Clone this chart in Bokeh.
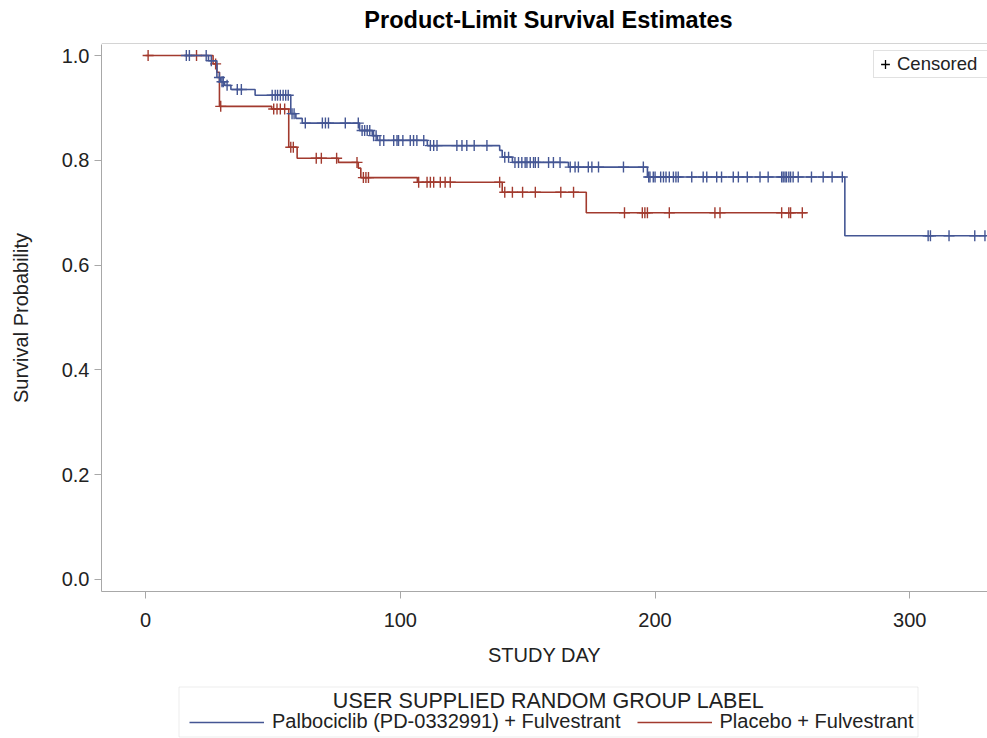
import numpy as np
from bokeh.plotting import figure
from bokeh.layouts import column
from bokeh.models import (Legend, LegendItem, Range1d, FixedTicker,
                          PrintfTickFormatter, BoxAnnotation, Label, Span)
from bokeh.embed import file_html
from bokeh.resources import INLINE

chart_title = "Product-Limit Survival Estimates"
x_label = "STUDY DAY"
y_label = "Survival Probability"
group_label = "USER SUPPLIED RANDOM GROUP LABEL"
group_names = ["Palbociclib (PD-0332991) + Fulvestrant", "Placebo + Fulvestrant"]
censor_label = "Censored"
x_ticks = [0, 100, 200, 300]
y_ticks = [0.0, 0.2, 0.4, 0.6, 0.8, 1.0]

# Palbociclib + Fulvestrant: step times and survival after each step
palbo_t = [15.5, 24.7, 28.0, 29.5, 31.0, 33.5, 43.0, 57.0, 59.0, 61.5, 84.0, 89.0,
           91.0, 110.6, 139.0, 140.0, 144.0, 166.0, 197.0, 274.5]
palbo_s = [1.0, 0.990, 0.958, 0.950, 0.943, 0.935, 0.924, 0.889, 0.880, 0.871, 0.857,
           0.847, 0.838, 0.828, 0.819, 0.806, 0.796, 0.787, 0.768, 0.656]
palbo_end = 330.0
palbo_censored = [16, 17.2, 23.8, 25.8, 29.0, 30.0, 30.5, 32.0, 36.0, 37.6,
                  49.7, 50.9, 51.8, 52.9, 54.0, 55.0, 56.0, 57.5, 58.3,
                  62.7, 69.4, 70.6, 71.8, 78.4, 83.5, 85.0, 86.0, 87.0, 88.0,
                  89.5, 90.5, 92.0, 93.5, 97.4, 98.7, 99.3, 101.0, 103.9, 105.2,
                  106.5, 109.2, 111.8, 113.1, 114.4, 122.2, 124.2, 126.1, 129.0,
                  134.0, 141.0, 142.5, 145.0, 146.4, 147.7, 149.0, 149.7, 151.0,
                  152.3, 153.0, 154.2, 158.2, 160.1, 162.7, 166.7, 168.6, 169.9,
                  173.8, 175.2, 177.8, 187.6, 195.4, 197.5, 198.0, 199.3, 200.0,
                  202.2, 203.3, 204.3, 205.6, 207.2, 208.2, 209.1, 214.4, 218.9,
                  220.3, 224.2, 226.1, 230.7, 232.7, 236.2, 241.2, 244.4, 249.7,
                  250.3, 251.0, 251.6, 252.5, 253.2, 254.2, 256.2, 261.4, 266.0,
                  269.5, 273.5, 307.2, 308.1, 315.4, 325.5, 329.5]

# Placebo + Fulvestrant
placebo_t = [0.0, 26.5, 28.0, 29.0, 49.5, 56.2, 59.5, 75.7, 83.5, 84.5, 106.7,
             140.0, 173.0]
placebo_s = [1.0, 0.984, 0.968, 0.903, 0.898, 0.825, 0.804, 0.796, 0.785, 0.767,
             0.758, 0.739, 0.700]
placebo_end = 259.5
placebo_censored = [1.0, 20.0, 27.5, 29.5, 50.3, 51.6, 52.9, 54.6, 57.0, 58.0,
                    67.0, 69.0, 75.0, 83.0, 85.5, 86.5, 87.5, 107.2, 110.5, 111.8,
                    113.1, 115.7, 117.6, 119.6, 139.0, 141.0, 144.0, 148.0, 153.0,
                    163.0, 168.0, 188.0, 195.0, 196.0, 197.0, 205.6, 223.5, 225.5,
                    249.7, 252.5, 253.2, 257.8]

BLUE = "#445694"
RED = "#A23A2E"
FONT = "Liberation Sans"
TXT = "#222222"
FRAME = "#a8a8a8"
BOX = "#c4c4c4"
NAN2 = [float("nan"), float("nan")]


def censor_levels(times, surv, cens):
    idx = np.searchsorted(np.asarray(times), np.asarray(cens), side="right") - 1
    idx = np.clip(idx, 0, len(surv) - 1)
    return list(np.asarray(surv)[idx])


def strip(height):
    """A blank strip whose data coordinates are page pixels (y downward)."""
    f = figure(width=987, height=height, output_backend="svg",
               toolbar_location=None, x_range=Range1d(101, 987),
               y_range=Range1d(height, 0), min_border=0,
               x_axis_location=None, y_axis_location=None)
    f.outline_line_color = None
    f.xgrid.visible = False
    f.ygrid.visible = False
    f.background_fill_color = "white"
    f.border_fill_color = "white"
    return f


# ---- title strip (44 px); its bottom edge carries the plot frame's top line
t = strip(44)
t.add_layout(Label(x=548, y=19, text=chart_title, text_align="center",
                   text_baseline="middle", text_font=FONT,
                   text_font_size="23.5px", text_font_style="bold",
                   text_color="black"))
t.add_layout(Span(location=43.5, dimension="width", line_color=FRAME,
                  line_width=1))

# ---- main chart (636 px); frame open on the right like the cropped reference
p = figure(width=987, height=636, output_backend="svg", toolbar_location=None,
           x_range=Range1d(-17.3, 330.5), y_range=Range1d(-0.023, 1.021),
           min_border_left=101, min_border_right=0, min_border_top=0,
           min_border_bottom=89)
p.background_fill_color = "white"
p.border_fill_color = "white"
p.outline_line_color = None
p.xgrid.visible = False
p.ygrid.visible = False

for ax in (p.xaxis[0], p.yaxis[0]):
    ax.axis_line_color = FRAME
    ax.major_tick_line_color = FRAME
    ax.major_tick_out = 7
    ax.major_tick_in = 0
    ax.minor_tick_line_color = None
    ax.major_label_text_font = FONT
    ax.major_label_text_font_size = "20px"
    ax.major_label_text_color = TXT
    ax.axis_label_text_font = FONT
    ax.axis_label_text_font_size = "20px"
    ax.axis_label_text_font_style = "normal"
    ax.axis_label_text_color = TXT

p.xaxis.ticker = FixedTicker(ticks=x_ticks)
p.yaxis.ticker = FixedTicker(ticks=y_ticks)
p.yaxis.formatter = PrintfTickFormatter(format="%.1f")
p.xaxis.axis_label = x_label
p.yaxis.axis_label = y_label
p.xaxis.major_label_standoff = 14
p.xaxis.axis_label_standoff = 14
p.yaxis.major_label_standoff = 5
p.yaxis.axis_label_standoff = 27

# placebo first (drawn underneath), then palbociclib on top
p.step(x=placebo_t + [placebo_end], y=placebo_s + [placebo_s[-1]],
       mode="after", line_color=RED, line_width=1.6)
p.scatter(x=placebo_censored,
          y=censor_levels(placebo_t, placebo_s, placebo_censored),
          marker="cross", size=11, line_color=RED, line_width=1.4)

p.step(x=palbo_t + [palbo_end], y=palbo_s + [palbo_s[-1]],
       mode="after", line_color=BLUE, line_width=1.6)
p.scatter(x=palbo_censored,
          y=censor_levels(palbo_t, palbo_s, palbo_censored),
          marker="cross", size=11, line_color=BLUE, line_width=1.4)

# "+ Censored" inset legend (top right, running off the edge like the reference)
cens_dummy = p.scatter(x=NAN2, y=NAN2, marker="cross", size=11,
                       line_color="black", line_width=1.3)
cens_leg = Legend(items=[LegendItem(label=censor_label, renderers=[cens_dummy])],
                  location=(772, 513), orientation="horizontal",
                  label_text_font=FONT, label_text_font_size="18.5px",
                  label_text_color=TXT, glyph_width=22, glyph_height=26,
                  label_height=26, label_width=110, label_standoff=1, padding=0,
                  margin=0, spacing=0, border_line_color=BOX,
                  background_fill_alpha=1.0)
p.add_layout(cens_leg, "center")

# ---- group legend strip (58 px)
q = strip(58)
q.add_layout(BoxAnnotation(left=178.5, right=917.5, top=6.5, bottom=56.5,
                           fill_alpha=0, line_color=BOX, line_width=1))
q.add_layout(Label(x=548, y=20, text=group_label, text_align="center",
                   text_baseline="middle", text_font=FONT,
                   text_font_size="21.5px", text_color=TXT))
blue_dummy = q.line(x=NAN2, y=NAN2, line_color=BLUE, line_width=1.6)
red_dummy = q.line(x=NAN2, y=NAN2, line_color=RED, line_width=1.6)
grp_leg = Legend(items=[LegendItem(label=group_names[0], renderers=[blue_dummy]),
                        LegendItem(label=group_names[1], renderers=[red_dummy])],
                 orientation="horizontal", location=(88, 5),
                 label_text_font=FONT, label_text_font_size="20px",
                 label_text_color=TXT, glyph_width=75, glyph_height=22,
                 label_height=22, label_standoff=8, spacing=16, padding=0,
                 margin=0, border_line_color=None, background_fill_alpha=0)
q.add_layout(grp_leg, "center")

layout = column(t, p, q, spacing=0)
open("out.html", "w").write(file_html(layout, INLINE))
